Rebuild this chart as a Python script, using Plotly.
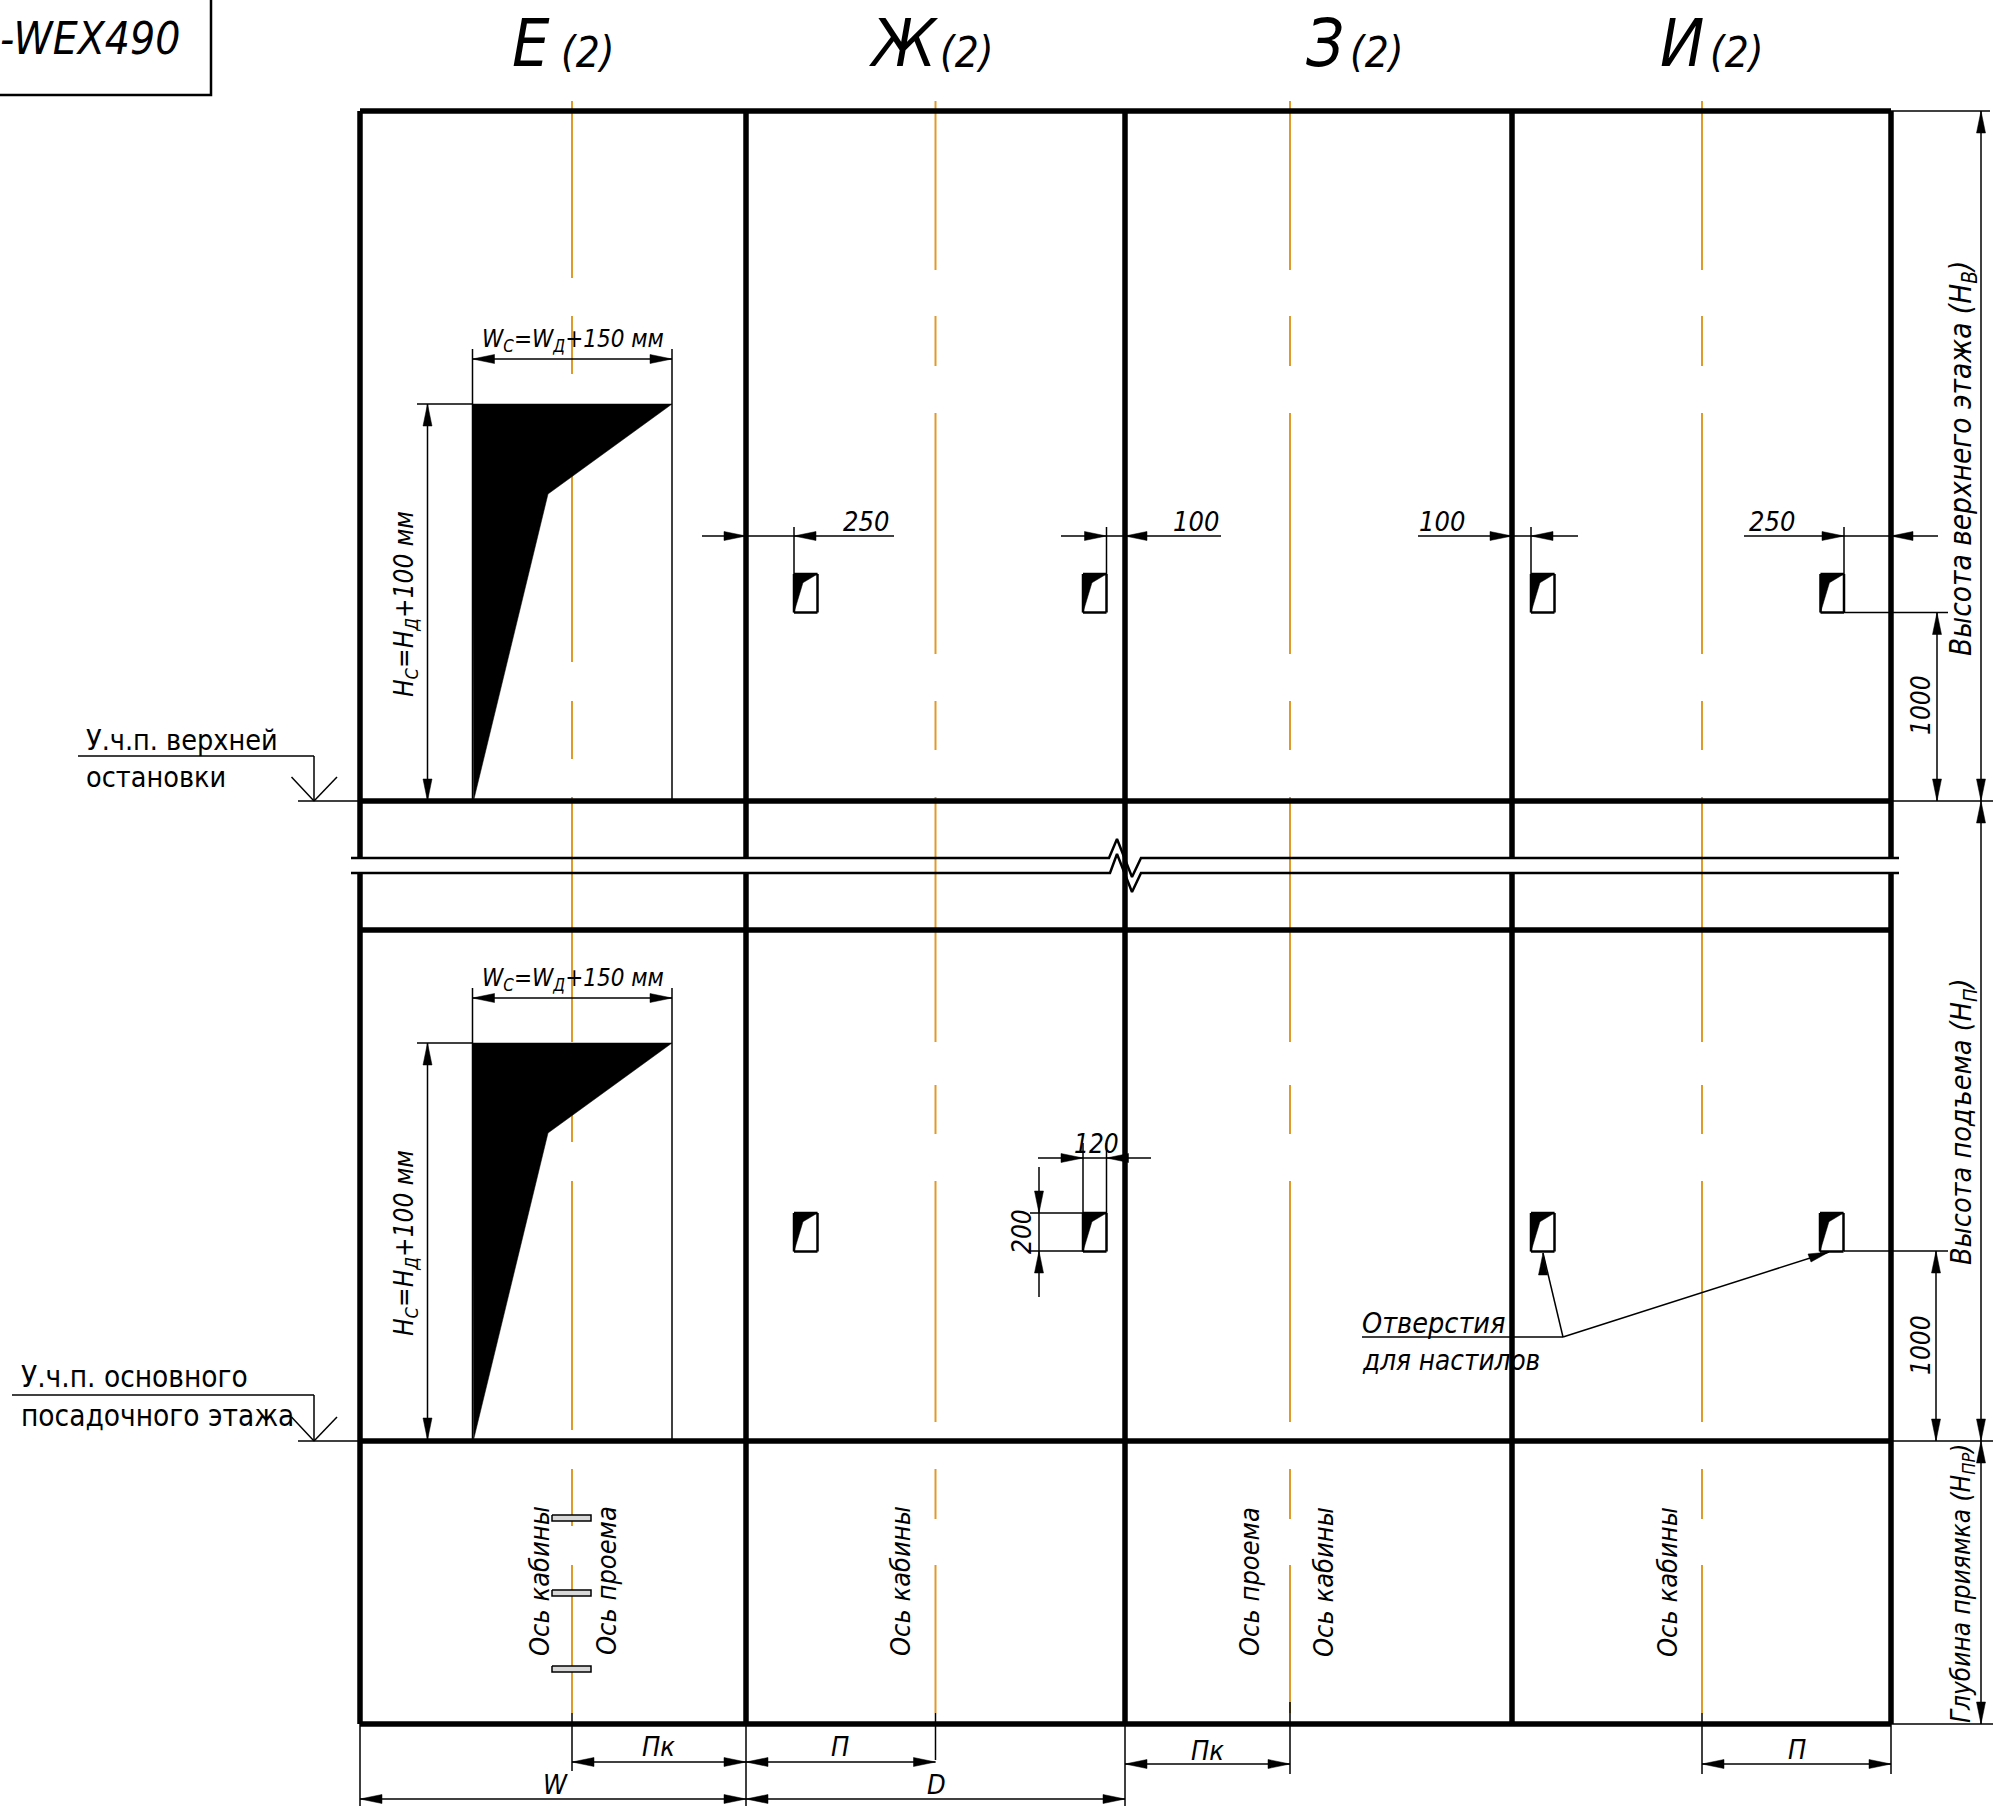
import plotly.graph_objects as go

W, H = 1993, 1806
FONT = "DejaVu Sans Condensed, DejaVu Sans"
ORANGE = "#E09A2B"

# frame geometry
col_x = [360, 746, 1125, 1512, 1891]
top_y, upper_floor_y, break_top_y, break_bot_y, lower_slab_y, lower_floor_y, bottom_y = 111, 801, 858, 873, 930, 1441, 1724
axis_x = [572, 935.5, 1290, 1702]
axis_dashes_first = [(101, 278), (316, 374), (476, 662), (701, 759), (797, 1042), (1085, 1142), (1181, 1430), (1469, 1526), (1565, 1713)]
axis_dashes_rest = [(101, 270), (316, 366), (413, 654), (701, 750), (797, 1042), (1085, 1134), (1181, 1422), (1469, 1519), (1565, 1713)]

door_left, door_right, door_top_upper, door_notch = 472.5, 672, 404, (548, 494)
floor_offset = 639
hole_x_upper = [794, 1083, 1531, 1820.5]
hole_x_lower = [794, 1083, 1531, 1820]
hole_size = (23.5, 38.5)
hole_top = 574
centre_marks_y = [1518, 1593, 1669]

# thin dimension / extension / leader lines: x1, y1, x2, y2
thin_lines = [
    # right hand extension lines
    (1891, 111, 1990, 111), (1891, 801, 1993, 801), (1891, 1441, 1993, 1441), (1891, 1724, 1993, 1724),
    (1844, 612.5, 1948, 612.5), (1844, 1251, 1948, 1251),
    (1937, 612.5, 1937, 801), (1936, 1251, 1936, 1441),
    (1981, 111, 1981, 801), (1981, 801, 1981, 1441), (1981, 1441, 1981, 1724),
    # upper row horizontal dims
    (702, 536, 794, 536), (794, 536, 894, 536), (794, 527, 794, 574),
    (1061, 536, 1221, 536), (1106.5, 527, 1106.5, 574),
    (1418, 536, 1578, 536), (1531, 527, 1531, 574),
    (1744, 536, 1938, 536), (1844, 527, 1844, 574),
    # 120 / 200 dims
    (1038, 1158, 1151, 1158), (1083, 1143, 1083, 1213), (1106.5, 1143, 1106.5, 1213),
    (1039, 1167, 1039, 1297), (1030, 1213, 1083, 1213), (1030, 1251, 1083, 1251),
    # leaders
    (1362, 1337, 1563, 1337), (1563, 1337, 1543, 1253), (1563, 1337, 1829, 1252),
    # level marks
    (78, 756, 314, 756), (314, 756, 314, 801), (298, 801, 360, 801), (291.5, 777, 314, 801), (314, 801, 337, 777),
    (12, 1395, 314, 1395), (314, 1395, 314, 1441), (298, 1441, 360, 1441), (291.5, 1417, 314, 1441), (314, 1441, 337, 1417),
    # bottom dims
    (360, 1724, 360, 1806), (746, 1724, 746, 1806), (1125, 1724, 1125, 1806),
    (572, 1713, 572, 1771), (935.5, 1713, 935.5, 1760), (1290, 1702, 1290, 1774), (1702, 1713, 1702, 1774), (1891, 1724, 1891, 1774),
    (572, 1762, 935.5, 1762), (360, 1799, 1125, 1799), (1125, 1764, 1290, 1764), (1702, 1764, 1891, 1764),
]
# door opening dims, repeated on both floors
door_lines = [
    (472.5, 349, 472.5, 801), (672, 349, 672, 801), (472, 359, 672, 359),
    (417, 404, 472, 404), (427.5, 404, 427.5, 801), (472, 801, 672, 801),
]
# arrow tips: x, y, direction the arrow points in
arrow_tips = [
    (746, 536, "r"), (794, 536, "l"), (1106.5, 536, "r"), (1125, 536, "l"), (1512, 536, "r"), (1531, 536, "l"),
    (1844, 536, "r"), (1891, 536, "l"),
    (1937, 612.5, "u"), (1937, 801, "d"), (1936, 1251, "u"), (1936, 1441, "d"),
    (1981, 111, "u"), (1981, 801, "d"), (1981, 801, "u"), (1981, 1441, "d"), (1981, 1441, "u"), (1981, 1724, "d"),
    (1083, 1158, "r"), (1106.5, 1158, "l"), (1039, 1213, "d"), (1039, 1251, "u"),
    (1543, 1253, "u"), (1829, 1252, "r2"),
    (572, 1762, "l"), (746, 1762, "r"), (746, 1762, "l"), (935.5, 1762, "r"),
    (360, 1799, "l"), (746, 1799, "r"), (746, 1799, "l"), (1125, 1799, "r"),
    (1125, 1764, "l"), (1290, 1764, "r"), (1702, 1764, "l"), (1891, 1764, "r"),
]
door_arrow_tips = [(472.5, 359, "l"), (672, 359, "r"), (427.5, 404, "u"), (427.5, 801, "d")]

break_upper_x = [351, 1109, 1117, 1132, 1141, 1899]
break_upper_y = [858, 858, 839, 877, 858, 858]
break_lower_x = [351, 1110, 1117, 1132, 1141, 1899]
break_lower_y = [873, 873, 854, 892, 873, 873]

# text: content, x, y, size, rotation, anchor, italic
labels = [
    ("Е", 531, 43, 66, 0, "center", True), ("(2)", 588, 52, 42, 0, "center", True),
    ("Ж", 904, 43, 66, 0, "center", True), ("(2)", 967, 52, 42, 0, "center", True),
    ("З", 1325, 43, 66, 0, "center", True), ("(2)", 1377, 52, 42, 0, "center", True),
    ("И", 1682, 43, 66, 0, "center", True), ("(2)", 1737, 52, 42, 0, "center", True),
    ("-WEX490", 182, 38, 44, 0, "right", True),
    ("W<sub>С</sub>=W<sub>Д</sub>+150 мм", 573, 340, 24, 0, "center", True),
    ("H<sub>С</sub>=H<sub>Д</sub>+100 мм", 405, 604, 26, -90, "center", True),
    ("W<sub>С</sub>=W<sub>Д</sub>+150 мм", 573, 979, 24, 0, "center", True),
    ("H<sub>С</sub>=H<sub>Д</sub>+100 мм", 405, 1243, 26, -90, "center", True),
    ("250", 866, 521, 27, 0, "center", True), ("100", 1196, 521, 27, 0, "center", True),
    ("100", 1442, 521, 27, 0, "center", True), ("250", 1772, 521, 27, 0, "center", True),
    ("120", 1096, 1144, 26, 0, "center", True), ("200", 1022, 1232, 26, -90, "center", True),
    ("1000", 1921, 705, 26, -90, "center", True), ("1000", 1921, 1345, 26, -90, "center", True),
    ("Высота верхнего этажа (H<sub>В</sub>)", 1963, 459, 29.5, -90, "center", True),
    ("Высота подъема (H<sub>П</sub>)", 1963, 1122, 28.5, -90, "center", True),
    ("Глубина приямка (H<sub>ПР</sub>)", 1962, 1583, 26, -90, "center", True),
    ("Ось кабины", 539, 1581, 27, -90, "center", True), ("Ось проема", 606, 1581, 27, -90, "center", True),
    ("Ось кабины", 900, 1581, 27, -90, "center", True), ("Ось проема", 1249, 1582, 27, -90, "center", True),
    ("Ось кабины", 1323, 1582, 27, -90, "center", True), ("Ось кабины", 1667, 1582, 27, -90, "center", True),
    ("Отверстия", 1360, 1323, 28.5, 0, "left", True), ("для настилов", 1360, 1360, 27.6, 0, "left", True),
    ("У.ч.п. верхней", 84, 740, 28.5, 0, "left", False), ("остановки", 84, 777, 28.5, 0, "left", False),
    ("У.ч.п. основного", 19, 1377, 29.5, 0, "left", False), ("посадочного этажа", 19, 1416, 29.5, 0, "left", False),
    ("Пк", 658, 1746, 27, 0, "center", True), ("П", 840, 1746, 27, 0, "center", True),
    ("W", 555, 1784, 27, 0, "center", True), ("D", 936, 1784, 27, 0, "center", True),
    ("Пк", 1207, 1750, 27, 0, "center", True), ("П", 1797, 1749, 27, 0, "center", True),
]


def seg_xy(segs):
    xs, ys = [], []
    for x1, y1, x2, y2 in segs:
        xs += [x1, x2, None]
        ys += [y1, y2, None]
    return xs, ys


def poly_xy(polys):
    xs, ys = [], []
    for p in polys:
        xs += [a for a, _ in p] + [p[0][0], None]
        ys += [b for _, b in p] + [p[0][1], None]
    return xs, ys


def arrow(x, y, d, length=22, half=4.5):
    if d == "r":
        return [(x, y), (x - length, y - half), (x - length, y + half)]
    if d == "l":
        return [(x, y), (x + length, y - half), (x + length, y + half)]
    if d == "u":
        return [(x, y), (x - half, y + length), (x + half, y + length)]
    if d == "d":
        return [(x, y), (x - half, y - length), (x + half, y - length)]
    # leader tip that follows the sloped line
    return [(x, y), (x - 21, y + 2), (x - 18, y + 10)]


fig = go.Figure()


def lines(xs, ys, color, width):
    fig.add_trace(go.Scatter(x=xs, y=ys, mode="lines", line=dict(color=color, width=width),
                             hoverinfo="skip", showlegend=False, connectgaps=False))


def fills(polys, color="black"):
    xs, ys = poly_xy(polys)
    fig.add_trace(go.Scatter(x=xs, y=ys, mode="lines", fill="toself", fillcolor=color,
                             line=dict(color=color, width=0.5), hoverinfo="skip", showlegend=False))


# orange axes first, everything black goes above
orange = []
for i, ax in enumerate(axis_x):
    for a, b in (axis_dashes_first if i == 0 else axis_dashes_rest):
        orange.append((ax, a, ax, b))
lines(*seg_xy(orange), ORANGE, 2)

# frame
frame = [(col_x[0], y, col_x[-1], y) for y in (top_y, upper_floor_y, lower_slab_y, lower_floor_y, bottom_y)]
for cx in col_x:
    if cx == col_x[2]:
        frame.append((cx, top_y, cx, bottom_y))
    else:
        frame.append((cx, top_y, cx, break_top_y))
        frame.append((cx, break_bot_y, cx, bottom_y))
lines(*seg_xy(frame), "black", 5.5)

# break symbol
lines(break_upper_x, break_upper_y, "black", 2.5)
lines(break_lower_x, break_lower_y, "black", 2.5)

# thin lines
thin = list(thin_lines)
for dy in (0, floor_offset):
    thin += [(a, b + dy, c, d + dy) for a, b, c, d in door_lines]
lines(*seg_xy(thin), "black", 1.5)

# door pictograms and holes
polys = []
for dy in (0, floor_offset):
    polys.append([(door_left, door_top_upper + dy), (door_right, door_top_upper + dy),
                  (door_notch[0], door_notch[1] + dy), (door_left + 1, upper_floor_y + dy)])
hole_lines = []
for xs, dy in ((hole_x_upper, 0), (hole_x_lower, 639)):
    for hx in xs:
        w, h = hole_size
        t = hole_top + dy
        polys.append([(hx, t), (hx + w, t), (hx + 0.38 * w, t + 0.227 * h), (hx, t + h)])
        hole_lines += [(hx, t, hx + w, t), (hx + w, t, hx + w, t + h), (hx + w, t + h, hx, t + h), (hx, t + h, hx, t)]
lines(*seg_xy(hole_lines), "black", 2.5)
tips = [arrow(*t) for t in arrow_tips]
for dy in (0, floor_offset):
    tips += [arrow(x, y + dy, d) for x, y, d in door_arrow_tips]
fills(polys + tips)

# centre marks
marks = [[(552, y - 3), (591, y - 3), (591, y + 3), (552, y + 3)] for y in centre_marks_y]
xs, ys = poly_xy(marks)
fig.add_trace(go.Scatter(x=xs, y=ys, mode="lines", fill="toself", fillcolor="#d8d8d8",
                         line=dict(color="black", width=1.5), hoverinfo="skip", showlegend=False))

# title box
lines([0, 211, 211], [95, 95, 0], "black", 2.5)

for text, x, y, size, rot, anchor, ital in labels:
    fig.add_annotation(x=x, y=y, xref="x", yref="y", text=text, showarrow=False, textangle=rot,
                       xanchor=anchor, yanchor="middle",
                       font=dict(family=FONT, size=size, color="black", style="italic" if ital else "normal"))

fig.update_layout(width=W, height=H, margin=dict(l=0, r=0, t=0, b=0), plot_bgcolor="white", paper_bgcolor="white",
                  hovermode=False, showlegend=False)
fig.update_xaxes(range=[0, W], visible=False, fixedrange=True)
fig.update_yaxes(range=[H, 0], visible=False, fixedrange=True)
fig.write_html("out.html", config=dict(displayModeBar=False), post_script="document.body.style.margin='0';")
